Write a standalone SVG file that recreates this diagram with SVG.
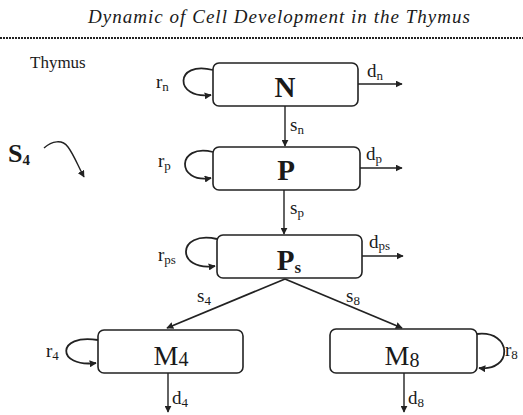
<svg xmlns="http://www.w3.org/2000/svg" width="523" height="415" viewBox="0 0 523 415">
<defs>
<style>
.box{fill:#fff;stroke:#222;stroke-width:1.6}
.ln{fill:none;stroke:#222;stroke-width:1.4}
.lp{fill:none;stroke:#222;stroke-width:1.8}
.t{font-family:"Liberation Serif","Times New Roman",serif;fill:#1a1a1a}
.lab{font-size:19px}
.sub{font-size:13px}
.node{font-size:29px;font-weight:bold;text-anchor:middle}
.mnode{font-size:28px;text-anchor:middle}
</style>
<marker id="ah" viewBox="0 0 10 10" refX="9" refY="5" markerWidth="7" markerHeight="7" markerUnits="userSpaceOnUse" orient="auto">
<path d="M0,0 L10,5 L0,10 z" fill="#222"/>
</marker>
</defs>
<rect width="523" height="415" fill="#fff"/>
<g id="header">
<text class="t" x="279" y="23" font-size="19" font-style="italic" text-anchor="middle" textLength="382" lengthAdjust="spacing">Dynamic of Cell Development in the Thymus</text>
<line x1="0" y1="38" x2="523" y2="38" stroke="#222" stroke-width="2" stroke-dasharray="2 1"/>
<text class="t" x="30" y="68" font-size="17">Thymus</text>
</g>
<g id="S4">
<text class="t" x="8" y="162" font-size="26" font-weight="bold">S<tspan font-size="15" dy="3">4</tspan></text>
<path class="ln" d="M44,148 C52,141 62,139 68,147 C74,155 78,166 84,177" marker-end="url(#ah)"/>
</g>
<g id="node-N">
<rect class="box" x="213" y="63" width="145" height="43" rx="6"/>
<text class="t node" x="285" y="97">N</text>
</g>
<g id="node-P">
<rect class="box" x="213" y="147" width="147" height="43" rx="6"/>
<text class="t node" x="286" y="180">P</text>
</g>
<g id="node-Ps">
<rect class="box" x="217" y="235" width="145" height="43" rx="6"/>
<text class="t node" x="289" y="270">P<tspan font-size="17" dy="3">s</tspan></text>
</g>
<g id="node-M4">
<rect class="box" x="98" y="330" width="145" height="43" rx="6"/>
<text class="t mnode" x="171" y="365">M<tspan font-size="20" dy="1">4</tspan></text>
</g>
<g id="node-M8">
<rect class="box" x="330" y="329" width="147" height="44" rx="6"/>
<text class="t mnode" x="402" y="365">M<tspan font-size="20" dy="2">8</tspan></text>
</g>
<g id="connectors">
<path class="lp" d="M213,70 C174,60 174,100 211,95" marker-end="url(#ah)"/>
<path class="lp" d="M213,152 C176,143 176,184 211,178" marker-end="url(#ah)"/>
<path class="lp" d="M217,239 C176,230 176,272 215,266" marker-end="url(#ah)"/>
<path class="lp" d="M98,340 C56,333 56,368 96,363" marker-end="url(#ah)"/>
<path class="lp" d="M477,334 C513,330 513,372 479,368" marker-end="url(#ah)"/>
<line class="ln" x1="285" y1="106" x2="285" y2="146" marker-end="url(#ah)"/>
<line class="ln" x1="284" y1="190" x2="284" y2="234" marker-end="url(#ah)"/>
<line class="ln" x1="358" y1="84" x2="402" y2="84" marker-end="url(#ah)"/>
<line class="ln" x1="360" y1="168" x2="402" y2="168" marker-end="url(#ah)"/>
<line class="ln" x1="362" y1="256" x2="403" y2="256" marker-end="url(#ah)"/>
<line class="lp" x1="285" y1="279" x2="167" y2="328" marker-end="url(#ah)"/>
<line class="lp" x1="285" y1="279" x2="402" y2="328" marker-end="url(#ah)"/>
<line class="ln" x1="168" y1="373" x2="168" y2="412" marker-end="url(#ah)"/>
<line class="ln" x1="404" y1="373" x2="404" y2="412" marker-end="url(#ah)"/>
</g>
<g id="labels">
<text class="t lab" x="156" y="88">r<tspan class="sub" dy="3">n</tspan></text>
<text class="t lab" x="158" y="167">r<tspan class="sub" dy="3">p</tspan></text>
<text class="t lab" x="158" y="261">r<tspan class="sub" dy="3">ps</tspan></text>
<text class="t lab" x="46" y="357">r<tspan class="sub" dy="3">4</tspan></text>
<text class="t lab" x="505" y="356">r<tspan class="sub" dy="3">8</tspan></text>
<text class="t lab" x="367" y="77">d<tspan class="sub" dy="3">n</tspan></text>
<text class="t lab" x="366" y="160">d<tspan class="sub" dy="3">p</tspan></text>
<text class="t lab" x="369" y="248">d<tspan class="sub" dy="2">ps</tspan></text>
<text class="t lab" x="290" y="131">s<tspan class="sub" dy="3">n</tspan></text>
<text class="t lab" x="290" y="214">s<tspan class="sub" dy="3">p</tspan></text>
<text class="t lab" x="197" y="302">s<tspan class="sub" dy="3">4</tspan></text>
<text class="t lab" x="346" y="302">s<tspan class="sub" dy="3">8</tspan></text>
<text class="t lab" x="172" y="404">d<tspan class="sub" dy="3">4</tspan></text>
<text class="t lab" x="408" y="404">d<tspan class="sub" dy="3">8</tspan></text>
</g>
</svg>
